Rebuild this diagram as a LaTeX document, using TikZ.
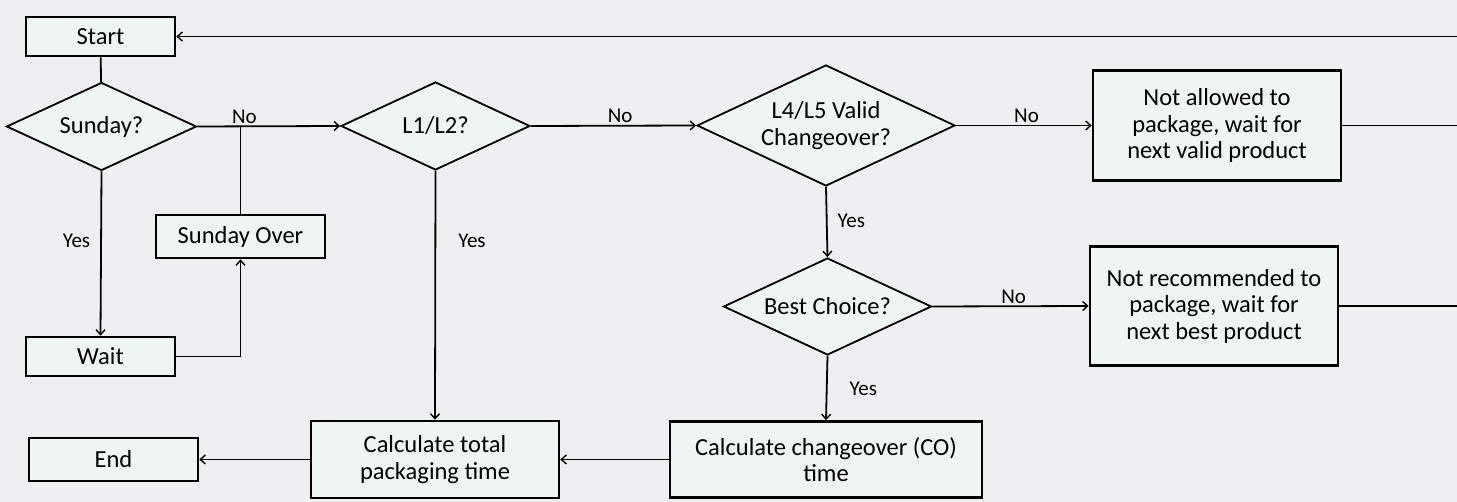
\documentclass[tikz,border=0pt]{standalone}
\usepackage{fontspec}
\setmainfont{Carlito}
\usetikzlibrary{shapes.geometric,arrows.meta}
\definecolor{bg}{HTML}{EEEEF3}
\definecolor{boxfill}{HTML}{EFF4F5}
\begin{document}
\begin{tikzpicture}[x=1pt,y=-1pt,
  txt/.style={font=\fontsize{24.5}{26.5}\selectfont},
  box/.style={draw=black, line width=2.6pt, fill=boxfill, inner sep=0pt, align=center, txt},
  dia/.style={diamond, aspect=2.15, draw=black, line width=1.8pt, fill=boxfill, inner sep=0pt, align=center, txt},
  conn/.style={line width=1.8pt, draw=black},
  arr/.style={conn, -{Straight Barb[length=5pt,width=9pt,line width=1.4pt]}},
  lbl/.style={font=\fontsize{21}{24}\selectfont, inner sep=2pt}]
\fill[bg] (0,0) rectangle (1457,502);
\useasboundingbox (0,0) rectangle (1457,502);

\node[box, minimum width=149, minimum height=39] (start) at (100.5,36.5) {Start};
\node[dia, minimum width=190, minimum height=88] (sun) at (101.5,126.5) {Sunday?};
\node[box, minimum width=169, minimum height=43] (over) at (240.5,236.5) {Sunday Over};
\node[box, minimum width=149, minimum height=39] (wait) at (100.5,356.5) {Wait};
\node[dia, minimum width=189, minimum height=88] (l12) at (435.5,126) {L1/L2?};
\node[dia, minimum width=258, minimum height=121] (l45) at (826,125.5) {L4/L5 Valid\\Changeover?};
\node[box, minimum width=248, minimum height=110] (na) at (1217,125.5) {Not allowed to\\package, wait for\\next valid product};
\node[dia, minimum width=208, minimum height=97] (best) at (827.5,306.5) {Best Choice?};
\node[box, minimum width=248, minimum height=119] (nr) at (1214,306) {Not recommended to\\package, wait for\\next best product};
\node[box, minimum width=312, minimum height=76] (co) at (826,459.5) {Calculate changeover (CO)\\time};
\node[box, minimum width=248, minimum height=77] (tot) at (435,459.5) {Calculate total\\packaging time};
\node[box, minimum width=169, minimum height=43] (end) at (113.5,459.5) {End};

\coordinate (e0) at (1457,36.5);
\coordinate (e1) at (1457,125.5);
\coordinate (e2) at (1457,306);

\draw[conn] (start) -- (sun);
\draw[arr] (sun.east) -- node[lbl, above, pos=0.33]{No} (l12.west);
\draw[conn] (over.north) -- (over.north |- sun.east);
\draw[arr] (sun.south) -- node[lbl, left=8pt, pos=0.42]{Yes} (wait.north);
\draw[arr] (wait.east) -| (over.south);
\draw[arr] (l12.east) -- node[lbl, above, pos=0.54]{No} (l45.west);
\draw[arr] (l12.south) -- node[lbl, right=20pt, pos=0.28]{Yes} (tot.north);
\draw[arr] (l45.east) -- node[lbl, above, pos=0.52]{No} (na.west);
\draw[conn] (na.east) -- (e1);
\draw[arr] (e0) -- (start.east);
\draw[arr] (l45.south) -- node[lbl, right=8pt, pos=0.49]{Yes} (best.north);
\draw[arr] (best.east) -- node[lbl, above, pos=0.52]{No} (nr.west);
\draw[conn] (nr.east) -- (e2);
\draw[arr] (best.south) -- node[lbl, right=20pt, pos=0.52]{Yes} (co.north);
\draw[arr] (co.west) -- (tot.east);
\draw[arr] (tot.west) -- (end.east);
\end{tikzpicture}
\end{document}
